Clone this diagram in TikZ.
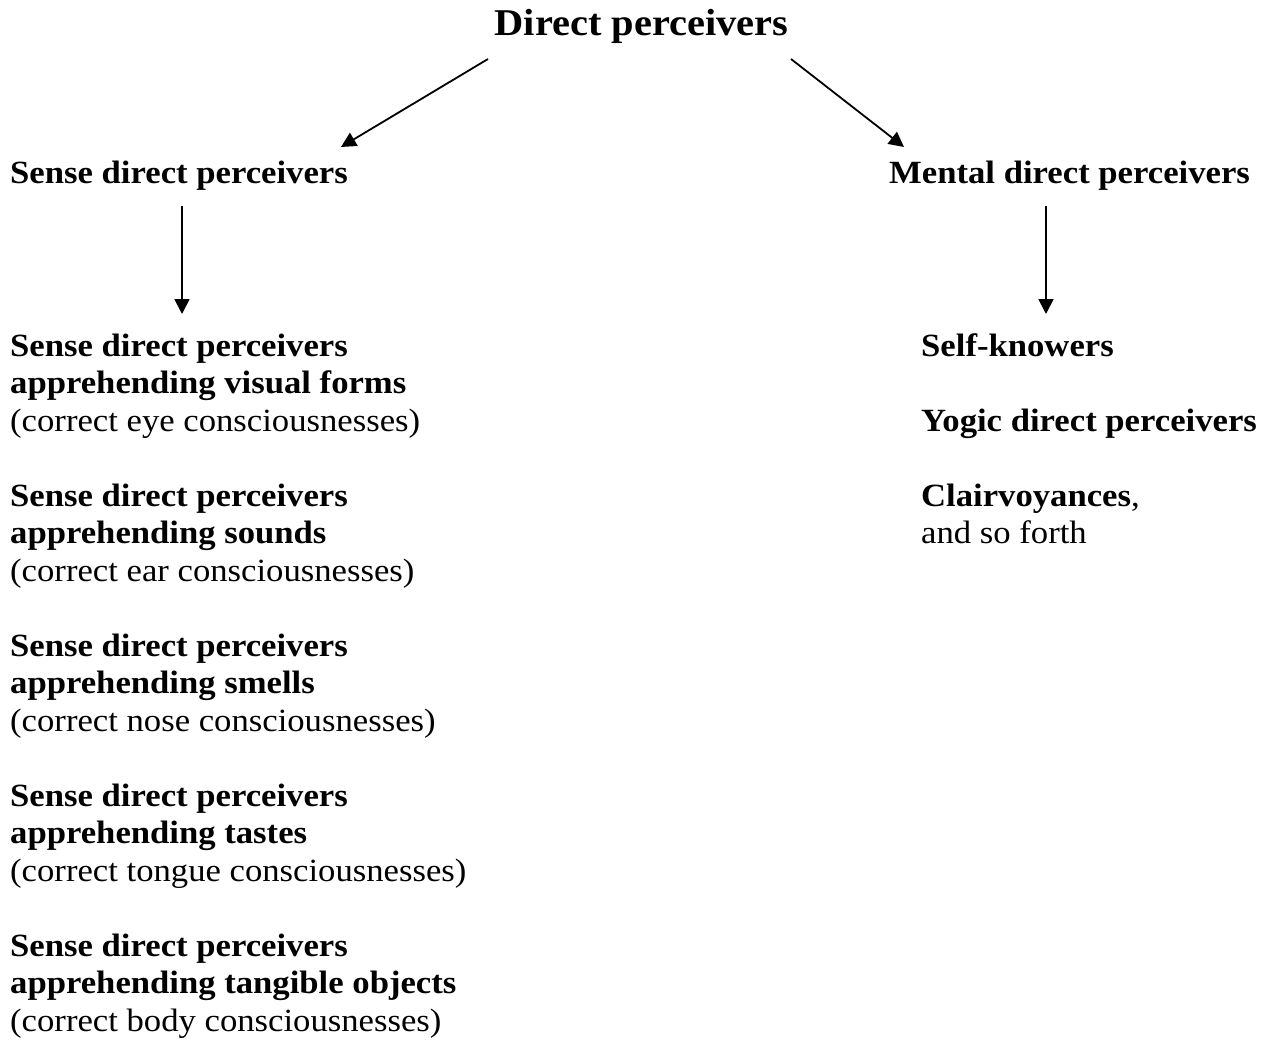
\documentclass[tikz,border=0pt]{standalone}
\usepackage{fontspec}
\setmainfont{Liberation Serif}[FakeStretch=1.07]
\usetikzlibrary{arrows.meta}
\tikzset{
  txt/.style={anchor=base west, inner sep=0pt, font=\fontsize{32.4}{38}\selectfont},
  hd/.style={txt, font=\fontsize{32.4}{38}\selectfont\bfseries},
  ttl/.style={anchor=base, inner sep=0pt, font=\fontsize{37.8}{44}\selectfont\bfseries},
  arr/.style={line width=1.8pt, -{Triangle[length=15pt,width=15pt]}}
}
\begin{document}
\begin{tikzpicture}[x=1pt,y=-1pt]
\useasboundingbox (0,0) rectangle (1270,1041);
% title
\node[ttl] (title) at (641.5,36) {Direct perceivers};
% level 1
\node[hd] (sense) at (10,183) {Sense direct perceivers};
\node[hd] (mental) at (889,183) {Mental direct perceivers};
% arrows from title
\coordinate (t1) at (488,59);
\coordinate (s1) at (341,147);
\coordinate (t2) at (791,59);
\coordinate (m1) at (904,147);
\draw[arr] (t1) -- (s1);
\draw[arr] (t2) -- (m1);
% vertical arrows
\coordinate (sa) at (182,206);
\coordinate (sb) at (182,314);
\coordinate (ma) at (1046,206);
\coordinate (mb) at (1046,314);
\draw[arr] (sa) -- (sb);
\draw[arr] (ma) -- (mb);
% left column
\node[hd]  (v1) at (10,356) {Sense direct perceivers};
\node[hd]  (v2) at (10,393.5) {apprehending visual forms};
\node[txt] (v3) at (10,431) {(correct eye consciousnesses)};
\node[hd]  (a1) at (10,506) {Sense direct perceivers};
\node[hd]  (a2) at (10,543.5) {apprehending sounds};
\node[txt] (a3) at (10,581) {(correct ear consciousnesses)};
\node[hd]  (n1) at (10,656) {Sense direct perceivers};
\node[hd]  (n2) at (10,693.5) {apprehending smells};
\node[txt] (n3) at (10,731) {(correct nose consciousnesses)};
\node[hd]  (g1) at (10,806) {Sense direct perceivers};
\node[hd]  (g2) at (10,843.5) {apprehending tastes};
\node[txt] (g3) at (10,881) {(correct tongue consciousnesses)};
\node[hd]  (b1) at (10,956) {Sense direct perceivers};
\node[hd]  (b2) at (10,993.5) {apprehending tangible objects};
\node[txt] (b3) at (10,1031) {(correct body consciousnesses)};
% right column
\node[hd]  (self) at (921,356) {Self-knowers};
\node[hd]  (yogic) at (921,431) {Yogic direct perceivers};
\node[txt] (clair) at (921,506) {\textbf{Clairvoyances},};
\node[txt] (forth) at (921,543.5) {and so forth};
\end{tikzpicture}
\end{document}
